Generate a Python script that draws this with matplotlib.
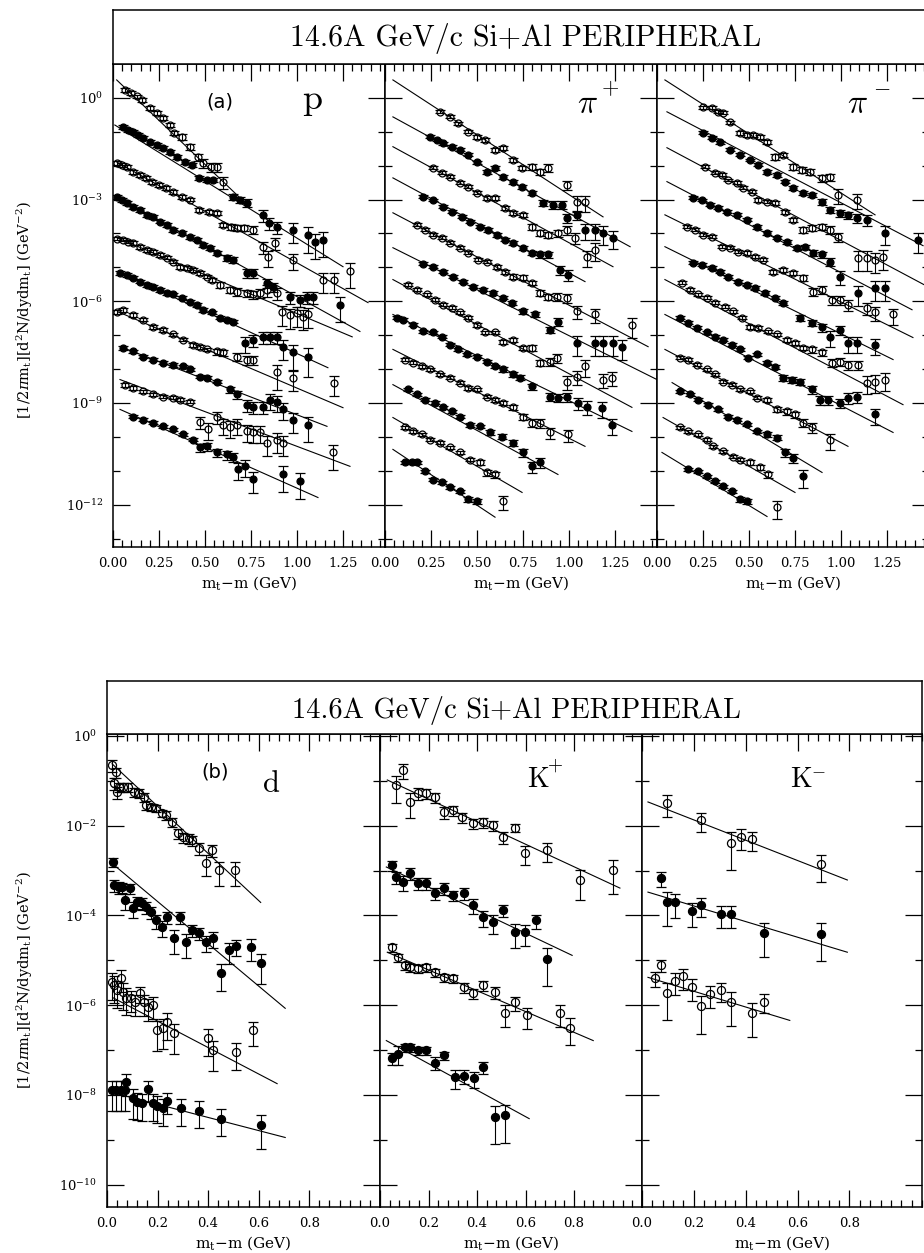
import matplotlib
matplotlib.use("Agg")
import matplotlib.pyplot as plt
import numpy as np

plt.rcParams["font.family"] = "DejaVu Serif"
plt.rcParams["mathtext.fontset"] = "dejavuserif"

# ---------------------------------------------------------------------------
# Spectra: x = m_t - m (GeV), log10 of the invariant yield, fractional errors.
# Each species holds its rapidity slices from top to bottom (scaled by 10^-n),
# alternating open / filled symbols. Fits are straight lines in log space,
# given by their end points (x0, log10 y0, x1, log10 y1).
# ---------------------------------------------------------------------------

P_X = [
    [0.065, 0.10, 0.13, 0.16, 0.20, 0.24, 0.27, 0.31, 0.33, 0.375, 0.42, 0.46, 0.49, 0.53, 0.565, 0.60],
    [0.054, 0.082, 0.11, 0.136, 0.163, 0.20, 0.24, 0.27, 0.31, 0.35, 0.39, 0.43, 0.47, 0.51, 0.545, 0.65, 0.69, 0.73, 0.815, 0.85, 0.89, 0.98, 1.06, 1.10, 1.14],
    [0.02, 0.05, 0.075, 0.11, 0.146, 0.18, 0.21, 0.25, 0.29, 0.326, 0.375, 0.42, 0.47, 0.52, 0.565, 0.60, 0.64, 0.675, 0.71, 0.76, 0.815, 0.84, 0.88, 0.98, 1.14, 1.20, 1.29],
    [0.02, 0.05, 0.076, 0.11, 0.147, 0.185, 0.217, 0.255, 0.293, 0.326, 0.375, 0.418, 0.457, 0.49, 0.527, 0.565, 0.62, 0.652, 0.728, 0.76, 0.837, 0.87, 0.962, 1.016, 1.054, 1.087, 1.234],
    [0.02, 0.054, 0.08, 0.11, 0.147, 0.185, 0.217, 0.255, 0.293, 0.326, 0.364, 0.40, 0.435, 0.473, 0.51, 0.54, 0.58, 0.636, 0.674, 0.728, 0.76, 0.80, 0.837, 0.89, 0.92, 0.962, 1.0, 1.03, 1.06],
    [0.04, 0.076, 0.11, 0.147, 0.185, 0.217, 0.255, 0.293, 0.326, 0.375, 0.418, 0.457, 0.49, 0.54, 0.58, 0.62, 0.652, 0.717, 0.76, 0.815, 0.853, 0.89, 0.924, 0.978, 1.06],
    [0.022, 0.054, 0.11, 0.163, 0.217, 0.272, 0.326, 0.38, 0.435, 0.473, 0.51, 0.565, 0.60, 0.674, 0.728, 0.76, 0.89, 0.978, 1.2],
    [0.054, 0.11, 0.163, 0.217, 0.272, 0.326, 0.38, 0.418, 0.473, 0.51, 0.565, 0.636, 0.674, 0.728, 0.76, 0.815, 0.853, 0.89, 0.924, 0.978, 1.06],
    [0.065, 0.11, 0.163, 0.217, 0.272, 0.326, 0.364, 0.418, 0.473, 0.516, 0.565, 0.60, 0.636, 0.674, 0.728, 0.76, 0.80, 0.837, 0.89, 0.924, 1.196],
    [0.11, 0.163, 0.217, 0.272, 0.326, 0.38, 0.435, 0.473, 0.51, 0.565, 0.62, 0.652, 0.68, 0.717, 0.76, 0.924, 1.016],
]
P_LOGY = [
    [0.24, 0.15, 0.05, -0.06, -0.29, -0.44, -0.59, -0.80, -1.03, -1.15, -1.44, -1.74, -1.91, -2.03, -2.03, -2.47],
    [-0.85, -0.94, -1.00, -1.09, -1.18, -1.30, -1.38, -1.47, -1.59, -1.74, -1.89, -1.97, -2.36, -2.42, -2.42, -2.92, -3.0, -3.09, -3.45, -3.68, -3.80, -3.89, -4.04, -4.24, -4.18],
    [-1.92, -1.97, -2.03, -2.18, -2.27, -2.36, -2.48, -2.56, -2.65, -2.77, -2.92, -3.0, -3.30, -3.36, -3.39, -3.74, -3.80, -3.83, -3.83, -3.89, -4.39, -4.68, -4.27, -4.77, -5.36, -5.36, -5.10],
    [-2.92, -3.01, -3.09, -3.21, -3.30, -3.45, -3.51, -3.65, -3.74, -3.89, -3.98, -4.10, -4.18, -4.33, -4.42, -4.57, -4.71, -4.77, -5.16, -5.16, -5.45, -5.57, -5.86, -5.95, -5.86, -5.86, -6.10],
    [-4.15, -4.18, -4.24, -4.27, -4.39, -4.48, -4.54, -4.63, -4.71, -4.83, -4.98, -5.01, -5.07, -5.16, -5.27, -5.36, -5.51, -5.66, -5.72, -5.75, -5.80, -5.75, -5.66, -5.75, -6.33, -6.42, -6.36, -6.45, -6.39],
    [-5.16, -5.22, -5.30, -5.42, -5.51, -5.57, -5.66, -5.75, -5.80, -5.89, -6.01, -6.10, -6.25, -6.33, -6.48, -6.54, -6.60, -7.22, -7.13, -7.04, -7.04, -7.04, -7.34, -7.51, -7.63],
    [-6.31, -6.25, -6.40, -6.54, -6.75, -6.84, -6.98, -7.13, -7.28, -7.34, -7.42, -7.48, -7.51, -7.63, -7.72, -7.72, -8.10, -8.25, -8.40],
    [-7.37, -7.48, -7.63, -7.72, -7.81, -7.87, -7.92, -8.01, -8.22, -8.25, -8.37, -8.60, -8.75, -9.05, -9.11, -9.11, -8.90, -8.96, -9.19, -9.49, -9.64],
    [-8.46, -8.55, -8.66, -8.75, -8.81, -8.84, -8.90, -8.96, -9.55, -9.78, -9.40, -9.64, -9.72, -9.64, -9.84, -9.87, -9.87, -10.17, -10.08, -10.17, -10.46],
    [-9.40, -9.49, -9.58, -9.69, -9.78, -9.93, -10.08, -10.31, -10.28, -10.46, -10.52, -10.58, -10.96, -10.87, -11.25, -11.10, -11.31],
]
P_ERR = [
    [.12, .12, .12, .12, .12, .12, .12, .12, .12, .2, .2, .25, .3, .3, .3, .38],
    [.12, .12, .12, .12, .12, .12, .12, .12, .12, .12, .12, .12, .12, .12, .12, .2, .2, .25, .38, .38, .38, .6, .7, .7, .7],
    [.12, .12, .12, .12, .12, .12, .12, .12, .12, .12, .12, .12, .12, .12, .12, .12, .2, .2, .2, .25, .38, .5, .38, .5, .6, .6, .7],
    [.12, .12, .12, .12, .12, .12, .12, .12, .12, .12, .12, .12, .12, .12, .12, .12, .2, .2, .3, .3, .3, .3, .38, .38, .38, .38, .7],
    [.12, .12, .12, .12, .12, .12, .12, .12, .12, .12, .12, .12, .12, .12, .12, .15, .2, .2, .25, .25, .25, .3, .38, .38, .6, .6, .6, .6, .6],
    [.12, .12, .12, .12, .12, .12, .12, .12, .12, .12, .12, .12, .12, .12, .12, .12, .12, .5, .38, .38, .38, .38, .6, .7, .75],
    [.12, .12, .12, .12, .12, .12, .12, .12, .12, .12, .12, .2, .2, .25, .3, .3, .7, .6, .6],
    [.12, .12, .12, .12, .12, .12, .12, .12, .12, .12, .12, .2, .25, .38, .38, .38, .5, .5, .5, .6, .7],
    [.12, .12, .12, .12, .12, .12, .12, .12, .38, .5, .38, .5, .5, .5, .5, .5, .5, .6, .6, .6, .7],
    [.12, .12, .12, .12, .12, .12, .12, .25, .25, .25, .3, .3, .5, .5, .6, .7, .7],
]
P_FIT = [
    (0.02, 0.53, 0.70, -3.0),
    (0.01, -0.80, 1.25, -4.98),
    (0.02, -1.89, 1.386, -6.04),
    (0.02, -2.92, 1.342, -6.89),
    (0.02, -4.12, 1.30, -7.05),
    (0.04, -5.16, 1.168, -7.96),
    (0.027, -6.31, 1.25, -9.14),
    (0.054, -7.37, 1.163, -9.69),
    (0.038, -8.31, 1.288, -10.87),
    (0.038, -9.19, 1.114, -11.79),
]

PIP_X = [
    [.30, .353, .397, .45, .50, .543, .598, .641, .696, .745, .80, .842, .886, .99, 1.043, 1.087],
    [.245, .283, .315, .364, .408, .45, .50, .554, .598, .641, .696, .745, .80, .859, .913, .962, .99, 1.043, 1.087, 1.141, 1.185, 1.239],
    [.26, .31, .353, .408, .45, .50, .554, .598, .652, .696, .75, .80, .842, .886, .94, .99, 1.033, 1.098, 1.141],
    [.207, .26, .315, .364, .418, .462, .516, .56, .609, .652, .696, .75, .80, .842, .886, .951, .995],
    [.174, .217, .26, .31, .353, .408, .45, .505, .554, .609, .652, .696, .75, .80, .842, .886, .935, .99, 1.043, 1.141, 1.342],
    [.207, .26, .315, .37, .424, .478, .533, .587, .641, .69, .75, .815, .897, .94, 1.043, 1.141, 1.185, 1.239, 1.288],
    [.125, .174, .228, .272, .315, .364, .408, .451, .50, .543, .598, .641, .696, .75, .80, .842, .897, .935, .99, 1.043, 1.087, 1.185, 1.234],
    [.065, .098, .152, .207, .26, .31, .353, .397, .446, .50, .554, .598, .641, .696, .734, .80, .897, .94, .99, 1.049, 1.098, 1.18, 1.234],
    [.109, .152, .20, .245, .30, .353, .408, .45, .50, .554, .598, .641, .696, .75, .80, .842, .897, .995],
    [.125, .174, .217, .272, .315, .364, .408, .462, .516, .57, .636, .696, .75, .80, .842],
    [.109, .152, .20, .245, .30, .353, .408, .462, .516, .554, .598, .641],
    [.109, .147, .174, .217, .26, .31, .353, .408, .45, .50],
]
PIP_LOGY = [
    [-.41, -.56, -.74, -1.00, -1.15, -1.24, -1.53, -1.47, -1.83, -2.06, -2.03, -2.18, -2.06, -2.56, -3.06, -3.06],
    [-1.15, -1.24, -1.33, -1.44, -1.53, -1.68, -1.89, -2.18, -2.06, -2.33, -2.47, -2.62, -2.80, -3.09, -3.15, -3.15, -3.54, -3.45, -3.89, -3.89, -3.98, -4.12],
    [-2.06, -2.21, -2.33, -2.50, -2.62, -2.80, -2.95, -2.95, -3.24, -3.39, -3.45, -3.80, -3.98, -4.04, -3.98, -3.89, -4.12, -4.68, -4.48],
    [-2.92, -3.01, -3.21, -3.36, -3.51, -3.65, -3.80, -3.89, -4.04, -4.18, -4.27, -4.42, -4.57, -4.62, -4.62, -5.07, -5.22],
    [-3.74, -3.89, -4.04, -4.12, -4.27, -4.42, -4.57, -4.77, -4.83, -4.98, -5.13, -5.27, -5.30, -5.45, -5.75, -5.86, -5.86, -5.89, -6.30, -6.39, -6.69],
    [-4.89, -4.98, -5.13, -5.27, -5.42, -5.57, -5.66, -5.75, -5.89, -6.04, -6.30, -6.39, -6.84, -6.60, -7.22, -7.22, -7.22, -7.22, -7.34],
    [-5.51, -5.66, -5.80, -5.95, -6.10, -6.19, -6.33, -6.48, -6.69, -6.92, -6.92, -7.19, -7.13, -7.37, -7.37, -7.81, -7.78, -7.66, -8.37, -8.22, -7.92, -8.31, -8.25],
    [-6.48, -6.54, -6.69, -6.89, -6.92, -7.04, -7.28, -7.42, -7.57, -7.63, -7.78, -7.92, -8.01, -8.16, -8.25, -8.51, -8.81, -8.84, -8.81, -8.99, -9.11, -9.14, -9.64],
    [-7.72, -7.81, -7.92, -8.01, -8.16, -8.25, -8.40, -8.55, -8.60, -8.81, -8.90, -8.99, -9.13, -9.40, -9.58, -9.58, -9.87, -9.93],
    [-8.60, -8.75, -8.90, -8.99, -9.13, -9.25, -9.40, -9.64, -9.69, -9.87, -9.99, -10.17, -10.46, -10.87, -10.75],
    [-9.72, -9.84, -9.93, -10.08, -10.17, -10.31, -10.46, -10.67, -10.75, -11.05, -11.11, -11.90],
    [-10.75, -10.75, -10.75, -11.02, -11.26, -11.34, -11.49, -11.61, -11.84, -11.90],
]
PIP_ERR = [
    [.1, .1, .1, .1, .12, .12, .12, .15, .15, .15, .2, .2, .25, .3, .5, .5],
    [.1, .1, .1, .1, .1, .1, .1, .12, .12, .12, .15, .15, .15, .2, .25, .25, .3, .3, .5, .5, .55, .55],
    [.1, .1, .1, .1, .1, .1, .12, .12, .12, .15, .15, .2, .2, .2, .25, .3, .35, .5, .55],
    [.1, .1, .1, .1, .1, .1, .1, .12, .12, .12, .15, .15, .15, .2, .2, .3, .35],
    [.1, .1, .1, .1, .1, .1, .1, .12, .12, .12, .12, .15, .15, .15, .2, .2, .25, .3, .4, .45, .6],
    [.1, .1, .1, .1, .1, .1, .1, .12, .12, .12, .15, .15, .2, .25, .6, .6, .6, .6, .6],
    [.1, .1, .1, .1, .1, .1, .1, .1, .12, .12, .12, .15, .15, .15, .2, .2, .25, .3, .45, .45, .5, .45, .45],
    [.1, .1, .1, .1, .1, .1, .1, .1, .12, .12, .12, .12, .15, .15, .15, .2, .25, .25, .3, .4, .45, .5, .5],
    [.1, .1, .1, .1, .1, .1, .1, .12, .12, .12, .15, .15, .15, .2, .25, .3, .35, .4],
    [.1, .1, .1, .1, .1, .1, .12, .12, .12, .15, .15, .2, .25, .35, .3],
    [.1, .1, .1, .1, .1, .12, .12, .12, .15, .2, .2, .45],
    [.1, .1, .1, .1, .1, .12, .12, .12, .15, .15],
]
PIP_FIT = [
    (0.043, 0.53, 1.185, -3.51),
    (0.043, -0.56, 1.332, -4.39),
    (0.043, -1.44, 1.239, -4.98),
    (0.043, -2.36, 1.087, -5.42),
    (0.043, -3.39, 1.43, -7.34),
    (0.043, -4.42, 1.478, -8.31),
    (0.043, -5.36, 1.342, -9.13),
    (0.043, -6.39, 1.342, -9.84),
    (0.043, -7.42, 1.087, -10.28),
    (0.043, -8.46, 0.94, -11.11),
    (0.043, -9.43, 0.745, -11.64),
    (0.043, -10.37, 0.598, -12.37),
]

PIM_X = [
    [.25, .30, .332, .36, .397, .45, .489, .522, .56, .598, .641, .685, .74, .788, .83, .897, .94, .984, 1.087],
    [.25, .30, .342, .397, .45, .505, .549, .598, .652, .696, .739, .793, .842, .897, .94, .995, 1.038, 1.087, 1.141, 1.24, 1.418],
    [.26, .315, .353, .386, .435, .467, .516, .549, .598, .641, .696, .739, .793, .842, .897, .94, .984, 1.09, 1.14, 1.185, 1.228],
    [.196, .245, .288, .332, .38, .435, .489, .543, .598, .652, .707, .76, .804, .848, .897, .94, .995, 1.09, 1.185, 1.24],
    [.163, .207, .25, .30, .353, .397, .44, .489, .533, .576, .63, .685, .739, .793, .848, .897, .951, .995, 1.038, 1.141, 1.185, 1.283],
    [.196, .245, .30, .342, .386, .44, .489, .533, .587, .641, .685, .777, .842, .897, .94, .995, 1.038, 1.087, 1.185],
    [.136, .179, .223, .272, .315, .37, .413, .462, .505, .549, .603, .652, .707, .75, .793, .842, .897, .951, .995, 1.038, 1.092, 1.141, 1.185, 1.239],
    [.125, .168, .217, .272, .315, .359, .408, .451, .495, .543, .598, .641, .685, .734, .777, .842, .886, .929, .995, 1.038, 1.087, 1.185],
    [.125, .168, .217, .272, .315, .359, .408, .451, .505, .543, .598, .652, .707, .75, .793, .842, .94],
    [.125, .179, .223, .277, .332, .386, .435, .489, .543, .598, .652, .696, .739, .793],
    [.125, .168, .223, .272, .304, .359, .413, .451, .505, .56, .603, .652],
    [.168, .223, .272, .315, .359, .408, .451, .489],
]
PIM_LOGY = [
    [-.27, -.29, -.41, -.44, -.71, -1.03, -1.09, -1.09, -1.15, -1.30, -1.74, -1.68, -2.03, -2.12, -2.18, -2.36, -2.33, -2.86, -3.01],
    [-1.03, -1.18, -1.30, -1.53, -1.68, -1.83, -1.97, -2.18, -2.27, -2.47, -2.65, -2.80, -2.86, -3.06, -3.30, -3.39, -3.45, -3.54, -3.59, -3.98, -4.18],
    [-2.03, -2.21, -2.27, -2.42, -2.50, -2.65, -2.77, -3.01, -3.06, -3.09, -3.36, -3.59, -3.89, -3.83, -3.80, -3.89, -4.10, -4.71, -4.71, -4.77, -4.68],
    [-2.95, -3.01, -3.15, -3.24, -3.36, -3.45, -3.59, -3.80, -3.98, -4.12, -4.24, -4.42, -4.39, -4.57, -4.62, -4.83, -5.27, -5.75, -5.60, -5.60],
    [-3.80, -3.89, -4.04, -4.10, -4.39, -4.42, -4.54, -4.57, -4.68, -4.77, -5.13, -5.07, -5.16, -5.30, -5.72, -5.66, -5.95, -5.95, -6.10, -6.19, -6.33, -6.39],
    [-4.86, -4.92, -5.01, -5.13, -5.27, -5.42, -5.51, -5.60, -5.75, -5.89, -6.04, -6.48, -6.63, -6.77, -7.04, -6.84, -7.22, -7.22, -7.28],
    [-5.45, -5.66, -5.80, -5.89, -6.04, -6.16, -6.30, -6.48, -6.75, -6.78, -6.89, -6.98, -7.13, -7.22, -7.37, -7.42, -7.51, -7.81, -7.78, -7.87, -7.87, -8.40, -8.37, -8.31],
    [-6.48, -6.63, -6.78, -6.92, -7.04, -7.13, -7.28, -7.42, -7.66, -7.57, -7.81, -7.93, -8.25, -8.31, -8.37, -8.60, -8.90, -8.90, -8.99, -8.84, -8.81, -9.34],
    [-7.66, -7.72, -7.87, -8.01, -8.16, -8.37, -8.46, -8.60, -8.66, -8.84, -8.90, -9.19, -9.25, -9.34, -9.58, -9.72, -10.08],
    [-8.66, -8.75, -8.90, -9.05, -9.19, -9.40, -9.49, -9.63, -9.84, -9.93, -10.02, -10.46, -10.61, -11.17],
    [-9.72, -9.84, -9.93, -10.08, -10.28, -10.43, -10.58, -10.67, -10.75, -10.90, -11.11, -12.08],
    [-10.96, -11.02, -11.17, -11.31, -11.46, -11.61, -11.84, -11.90],
]
PIM_ERR = [
    [.1, .1, .1, .1, .1, .12, .12, .12, .12, .15, .2, .15, .2, .2, .2, .25, .25, .45, .45],
    [.1, .1, .1, .1, .1, .1, .1, .12, .12, .12, .15, .15, .15, .2, .2, .25, .25, .3, .35, .55, .6],
    [.1, .1, .1, .1, .1, .1, .1, .12, .12, .12, .15, .15, .2, .2, .2, .25, .3, .6, .6, .6, .6],
    [.1, .1, .1, .1, .1, .1, .1, .12, .12, .12, .15, .15, .15, .2, .2, .25, .45, .6, .6, .6],
    [.1, .1, .1, .1, .1, .1, .1, .12, .12, .12, .15, .15, .15, .2, .25, .25, .3, .3, .35, .4, .45, .5],
    [.1, .1, .1, .1, .1, .1, .1, .12, .12, .12, .15, .2, .2, .25, .5, .3, .5, .5, .5],
    [.1, .1, .1, .1, .1, .1, .1, .1, .12, .12, .12, .12, .15, .15, .15, .2, .2, .25, .25, .3, .3, .55, .55, .55],
    [.1, .1, .1, .1, .1, .1, .1, .1, .12, .12, .12, .15, .2, .2, .2, .25, .3, .3, .3, .35, .35, .5],
    [.1, .1, .1, .1, .1, .1, .1, .12, .12, .12, .15, .15, .2, .2, .25, .3, .5],
    [.1, .1, .1, .1, .1, .1, .12, .12, .12, .15, .15, .25, .3, .55],
    [.1, .1, .1, .1, .1, .12, .12, .12, .15, .15, .2, .55],
    [.1, .1, .1, .1, .12, .12, .15, .15],
]
PIM_FIT = [
    (0.043, 0.53, 1.185, -3.45),
    (0.054, -0.41, 1.446, -4.36),
    (0.054, -1.47, 1.451, -5.51),
    (0.054, -2.47, 1.386, -6.25),
    (0.043, -3.45, 1.391, -7.07),
    (0.043, -4.39, 1.283, -7.72),
    (0.043, -5.36, 1.337, -9.05),
    (0.043, -6.39, 1.283, -9.87),
    (0.043, -7.42, 1.038, -10.28),
    (0.082, -8.40, 0.897, -11.05),
    (0.033, -9.43, 0.75, -11.64),
    (0.027, -10.46, 0.598, -12.35),
]

D_X = [
    [.018, .036, .029, .04, .047, .065, .083, .108, .127, .145, .156, .174, .192, .217, .235, .257, .282, .30, .325, .336, .362, .391, .416, .445, .506],
    [.022, .029, .047, .058, .072, .090, .101, .119, .137, .156, .174, .192, .217, .239, .264, .289, .311, .336, .365, .391, .420, .452, .481, .510, .571, .608],
    [.018, .029, .040, .054, .065, .076, .094, .112, .130, .145, .163, .181, .199, .221, .239, .264, .398, .420, .510, .579],
    [.018, .036, .054, .072, .076, .101, .119, .137, .163, .181, .199, .221, .239, .293, .365, .452, .608],
]
D_LOGY = [
    [-.65, -.80, -1.05, -1.25, -1.14, -1.14, -1.14, -1.25, -1.27, -1.36, -1.54, -1.58, -1.61, -1.72, -1.76, -1.92, -2.16, -2.25, -2.28, -2.32, -2.50, -2.83, -2.54, -2.99, -2.99],
    [-2.81, -3.33, -3.37, -3.37, -3.66, -3.39, -3.84, -3.71, -3.73, -3.82, -3.93, -4.11, -4.26, -4.04, -4.51, -4.04, -4.60, -4.33, -4.40, -4.60, -4.51, -5.29, -4.78, -4.69, -4.71, -5.07],
    [-5.49, -5.56, -5.67, -5.40, -5.71, -5.83, -5.85, -5.94, -5.74, -5.94, -6.05, -6.00, -6.56, -6.52, -6.38, -6.63, -6.74, -7.01, -7.05, -6.56],
    [-7.90, -7.90, -7.90, -7.90, -7.72, -8.08, -8.17, -8.19, -7.86, -8.19, -8.24, -8.30, -8.13, -8.30, -8.35, -8.53, -8.68],
]
D_ERR = [
    [.3, .25, .3, .3, .22, .22, .22, .22, .22, .22, .22, .18, .18, .18, .22, .22, .25, .25, .25, .25, .3, .5, .3, .55, .55],
    [.22, .3, .3, .25, .4, .25, .4, .3, .3, .3, .3, .35, .4, .3, .55, .3, .55, .3, .3, .4, .4, .6, .5, .4, .5, .65],
    [.6, .6, .6, .5, .6, .6, .5, .5, .4, .5, .5, .5, .65, .65, .6, .65, .6, .65, .6, .55],
    [.65, .65, .65, .65, .5, .65, .6, .6, .5, .6, .6, .6, .5, .6, .6, .6, .7],
]
D_FIT = [
    (0.02, -0.62, 0.608, -3.71),
    (0.02, -2.84, 0.705, -6.07),
    (0.022, -5.83, 0.673, -7.75),
    (0.022, -7.95, 0.705, -8.95),
]

KP_X = [
    [.068, .094, .125, .158, .189, .226, .264, .302, .34, .385, .426, .464, .509, .555, .596, .687, .823, .962],
    [.049, .068, .094, .125, .158, .189, .226, .264, .302, .347, .385, .426, .464, .509, .555, .596, .642, .687],
    [.049, .075, .102, .125, .158, .189, .226, .264, .302, .347, .385, .426, .472, .517, .555, .604, .743, .785],
    [.049, .075, .102, .125, .158, .189, .226, .264, .309, .347, .389, .426, .472, .517],
]
KP_LOGY = [
    [-1.09, -.76, -1.47, -1.27, -1.27, -1.36, -1.70, -1.65, -1.81, -1.94, -1.92, -1.99, -2.25, -2.05, -2.61, -2.54, -3.21, -2.99],
    [-2.88, -3.15, -3.26, -3.06, -3.28, -3.28, -3.50, -3.39, -3.55, -3.50, -3.77, -4.04, -4.15, -3.88, -4.38, -4.38, -4.11, -4.96],
    [-4.71, -4.93, -5.11, -5.16, -5.18, -5.16, -5.27, -5.38, -5.40, -5.60, -5.74, -5.56, -5.71, -6.18, -5.94, -6.23, -6.18, -6.50],
    [-7.17, -7.08, -6.94, -6.94, -7.01, -7.01, -7.28, -7.12, -7.61, -7.57, -7.63, -7.39, -8.50, -8.46],
]
KP_ERR = [
    [.6, .35, .55, .3, .25, .25, .3, .25, .25, .25, .25, .25, .3, .2, .45, .45, .65, .7],
    [.25, .3, .35, .3, .3, .3, .3, .3, .25, .3, .35, .4, .45, .3, .55, .5, .35, .75],
    [.2, .2, .2, .2, .2, .2, .2, .2, .2, .25, .25, .25, .3, .5, .35, .5, .5, .6],
    [.3, .45, .2, .2, .2, .2, .3, .2, .45, .35, .4, .3, .75, .75],
]
KP_FIT = [
    (0.03, -0.98, 0.989, -3.39),
    (0.026, -2.92, 0.792, -4.89),
    (0.03, -4.82, 0.879, -6.79),
    (0.026, -6.79, 0.615, -8.53),
]

KM_X = [
    [.098, .226, .343, .381, .426, .691],
    [.072, .098, .128, .192, .226, .306, .343, .472, .691],
    [.049, .075, .098, .128, .158, .192, .226, .264, .306, .343, .426, .472],
]
KM_LOGY = [
    [-1.50, -1.88, -2.39, -2.25, -2.30, -2.86],
    [-3.17, -3.71, -3.71, -3.91, -3.77, -3.97, -3.97, -4.40, -4.42],
    [-5.40, -5.11, -5.74, -5.47, -5.36, -5.60, -6.03, -5.76, -5.67, -5.94, -6.18, -5.92],
]
KM_ERR = [
    [.5, .45, .75, .5, .45, .6],
    [.35, .7, .55, .55, .45, .5, .5, .7, .75],
    [.35, .3, .75, .5, .5, .5, .75, .5, .45, .7, .7, .45],
]
KM_FIT = [
    (0.023, -1.47, 0.792, -3.21),
    (0.023, -3.48, 0.792, -4.82),
    (0.023, -5.38, 0.570, -6.34),
]

TITLE = "14.6A GeV/c Si+Al PERIPHERAL"
YLABEL = r"[1/2$\pi$m$_\mathrm{t}$][d$^2$N/dydm$_\mathrm{t}$] (GeV$^{-2}$)"
XLABEL = r"m$_\mathrm{t}$$-$m (GeV)"

W, H = 924, 1253


def frac(x0, y0, x1, y1):
    """Pixel box (left, top, right, bottom) -> figure fraction rect."""
    return [x0 / W, 1 - y1 / H, (x1 - x0) / W, (y1 - y0) / H]


def draw_spectra(ax, xs, logys, errs, fits, ms):
    for i in range(len(xs)):
        x = np.asarray(xs[i])
        y = 10.0 ** np.asarray(logys[i])
        f = np.asarray(errs[i])
        x0, l0, x1, l1 = fits[i]
        ax.plot([x0, x1], [10.0 ** l0, 10.0 ** l1], color="black", lw=0.8, zorder=2)
        filled = i % 2 == 1
        ax.errorbar(x, y, yerr=y * f, fmt="o", ms=ms,
                    mfc="black" if filled else "none", mec="black", mew=0.9,
                    ecolor="black", elinewidth=0.8, capsize=3.8, capthick=0.8,
                    zorder=3)


def style_axes(ax, xmax, xmaj, xmin, xfmt, ylim, ymaj, ymin, ylabels, first):
    ax.set_yscale("log")
    ax.set_xlim(0, xmax)
    ax.set_ylim(*ylim)
    ax.set_xticks(xmaj)
    ax.set_xticks(xmin, minor=True)
    ax.set_xticklabels([xfmt.format(v) for v in xmaj])
    ax.set_yticks(ymaj)
    ax.set_yticks(ymin, minor=True)
    if first:
        ax.set_yticklabels(ylabels)
    else:
        ax.set_yticklabels([])
    ax.yaxis.set_minor_formatter(matplotlib.ticker.NullFormatter())
    ax.tick_params(which="both", direction="in", top=True, right=True,
                   width=0.9, labelsize=9.5)
    ax.tick_params(which="major", length=12, pad=7)
    ax.tick_params(which="minor", length=5)
    for s in ax.spines.values():
        s.set_linewidth(1.1)
    ax.set_xlabel(XLABEL, fontsize=11, labelpad=3)


def title_box(rect):
    tb = fig.add_axes(rect)
    tb.set_xticks([])
    tb.set_yticks([])
    for s in tb.spines.values():
        s.set_linewidth(1.1)
    return tb


def label(ax, px, py, width, height, text, **kw):
    """Place text at pixel offsets (px, py) from an axes' top-left corner."""
    ax.text(px / width, 1 - py / height, text, transform=ax.transAxes,
            ha="center", va="center", **kw)


fig = plt.figure(figsize=(W / 100, H / 100), dpi=100)

# ---- (a) p, pi+, pi- -------------------------------------------------------
top_edges = [(113, 385), (385, 657), (657, 929)]
top_ylim = (10 ** -13.25, 10 ** 1.0)
top_major = [1e0, 1e-3, 1e-6, 1e-9, 1e-12]
top_minor = [10.0 ** k for k in range(-13, 1)]
top_labels = [r"$10^{0}$", r"$10^{-3}$", r"$10^{-6}$", r"$10^{-9}$", r"$10^{-12}$"]
top_sets = [
    (P_X, P_LOGY, P_ERR, P_FIT),
    (PIP_X, PIP_LOGY, PIP_ERR, PIP_FIT),
    (PIM_X, PIM_LOGY, PIM_ERR, PIM_FIT),
]
top_axes = []
for k, ((x0, x1), data) in enumerate(zip(top_edges, top_sets)):
    ax = fig.add_axes(frac(x0, 64, x1, 547))
    draw_spectra(ax, *data, ms=5.0)
    style_axes(ax, (x1 - x0) / 184.0, [0, 0.25, 0.5, 0.75, 1.0, 1.25],
               np.arange(0, 1.5, 0.05), "{:.2f}", top_ylim, top_major,
               top_minor, top_labels, k == 0)
    top_axes.append(ax)

tb = title_box(frac(113, 10, 929, 64))
tb.text(0.506, 0.48, TITLE, transform=tb.transAxes, ha="center", va="center",
        family="cmr10", fontsize=21.5)

label(top_axes[0], 107, 38, 272, 483, "(a)", family="DejaVu Sans", fontsize=14)
label(top_axes[0], 199, 36, 272, 483, "p", family="cmr10", fontsize=26)
label(top_axes[1], 202, 40, 272, 483, r"$\pi$", fontsize=24, math_fontfamily="cm")
label(top_axes[1], 225, 24, 272, 483, "+", family="cmr10", fontsize=16)
label(top_axes[2], 200, 40, 272, 483, r"$\pi$", fontsize=24, math_fontfamily="cm")
label(top_axes[2], 225, 23, 272, 483, r"$-$", fontsize=16, math_fontfamily="cm")

fig.text(25 / W, 1 - 310 / H, YLABEL, rotation=90, ha="center", va="center",
         fontsize=10.5)

# ---- (b) d, K+, K- ---------------------------------------------------------
bot_edges = [(107, 380, 276.5), (380, 642, 265.0), (642, 922, 265.0)]
bot_ylim = (10 ** -10.5, 10 ** 0.045)
bot_major = [1e0, 1e-2, 1e-4, 1e-6, 1e-8, 1e-10]
bot_minor = [10.0 ** k for k in range(-10, 1)]
bot_labels = [r"$10^{0}$", r"$10^{-2}$", r"$10^{-4}$", r"$10^{-6}$",
              r"$10^{-8}$", r"$10^{-10}$"]
bot_sets = [
    (D_X, D_LOGY, D_ERR, D_FIT),
    (KP_X, KP_LOGY, KP_ERR, KP_FIT),
    (KM_X, KM_LOGY, KM_ERR, KM_FIT),
]
bot_axes = []
for k, ((x0, x1, scale), data) in enumerate(zip(bot_edges, bot_sets)):
    ax = fig.add_axes(frac(x0, 734, x1, 1207))
    draw_spectra(ax, *data, ms=5.8)
    style_axes(ax, (x1 - x0) / scale, [0, 0.2, 0.4, 0.6, 0.8],
               np.arange(0, 1.1, 0.04), "{:.1f}", bot_ylim, bot_major,
               bot_minor, bot_labels, k == 0)
    bot_axes.append(ax)

tb = title_box(frac(107, 681, 922, 734))
tb.text(0.502, 0.45, TITLE, transform=tb.transAxes, ha="center", va="center",
        family="cmr10", fontsize=20.5)

label(bot_axes[0], 108, 38, 273, 473, "(b)", family="DejaVu Sans", fontsize=14)
label(bot_axes[0], 164, 50, 273, 473, "d", family="cmr10", fontsize=22)
label(bot_axes[1], 158, 46, 262, 473, "K", family="cmr10", fontsize=20)
label(bot_axes[1], 175, 32, 262, 473, "+", family="cmr10", fontsize=14)
label(bot_axes[2], 159, 46, 280, 473, "K", family="cmr10", fontsize=20)
label(bot_axes[2], 176, 36, 280, 473, r"$-$", fontsize=13, math_fontfamily="cm")

fig.text(25 / W, 1 - 980 / H, YLABEL, rotation=90, ha="center", va="center",
         fontsize=10.5)

fig.savefig("out.png", dpi=100)
